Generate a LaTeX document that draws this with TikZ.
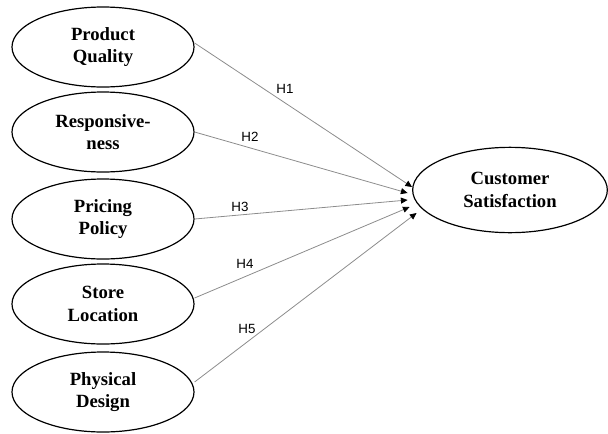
\documentclass[tikz,border=0pt]{standalone}
\usepackage{fontspec}
\setmainfont{Liberation Serif}
\newfontfamily\hlabelfont{Liberation Sans}
\usetikzlibrary{calc}
\usetikzlibrary{positioning}
\usetikzlibrary{shapes.geometric}
\usetikzlibrary{arrows.meta}
\tikzstyle{construct} = [draw, ellipse, line width=0.9pt, inner sep=0pt, minimum width=136.5pt, minimum height=60pt, align=center, font=\fontsize{14}{17}\selectfont\bfseries]
\tikzstyle{outcome} = [construct, minimum width=146pt, minimum height=64pt]
\tikzstyle{path} = [draw=black!45, line width=0.6pt, -{Triangle[length=5pt, width=4.5pt, black]}]
\tikzstyle{hyp} = [font=\fontsize{10}{12}\selectfont\hlabelfont, inner sep=0pt]

\begin{document}
\begin{tikzpicture}[x=0.75pt, y=-0.75pt]
    \useasboundingbox (0,0) rectangle (608,433);

    \node[construct] (quality) at (103,47) {Product\\Quality};
    \node[construct] (resp) at (103,132) {Responsive-\\ness};
    \node[construct] (pricing) at (103,219) {Pricing\\Policy};
    \node[construct] (location) at (103,304) {Store\\Location};
    \node[construct] (design) at (103,392) {Physical\\Design};

    \node[outcome] (satis) at (510,190) {Customer\\Satisfaction};

    % arrow tips sit in a small cluster left of the outcome
    \coordinate (tip1) at ($(satis.west)+(0,-3)$);
    \coordinate (tip2) at ($(satis.west)+(-4.5,3)$);
    \coordinate (tip3) at ($(satis.west)+(-4.5,10)$);
    \coordinate (tip4) at ($(satis.west)+(-2.5,17)$);
    \coordinate (tip5) at ($(satis.west)+(4.5,23)$);

    \draw[path] ($(quality.east)+(0,-4)$) -- (tip1);
    \draw[path] (resp.east) -- (tip2);
    \draw[path] (pricing.east) -- (tip3);
    \draw[path] ($(location.east)+(0,-6)$) -- (tip4);
    \draw[path] ($(design.east)+(0,-10)$) -- (tip5);

    \node[hyp] (h1) at (285,89) {H1};
    \node[hyp] (h2) at (250,137) {H2};
    \node[hyp] (h3) at (240,207) {H3};
    \node[hyp] (h4) at (245,264) {H4};
    \node[hyp] (h5) at (247,329) {H5};
\end{tikzpicture}
\end{document}
